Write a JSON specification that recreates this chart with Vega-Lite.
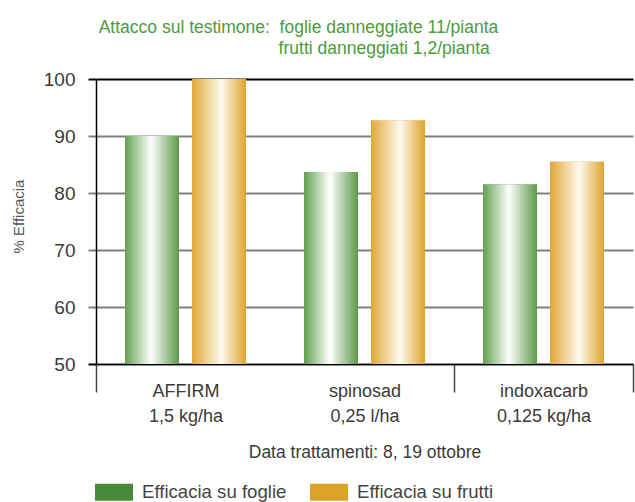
{
  "$schema": "https://vega.github.io/schema/vega-lite/v6.json",
  "width": 537,
  "height": 285,
  "autosize": {"type": "none"},
  "padding": {"left": 96, "top": 79, "right": 2, "bottom": 138},
  "background": "white",
  "config": {
    "view": {"stroke": null},
    "font": "Liberation Sans, Arial, sans-serif"
  },
  "title": {
    "text": ["Attacco sul testimone:\u00a0\u00a0foglie danneggiate 11/pianta", "\u200b\u00a0\u00a0\u00a0\u00a0\u00a0\u00a0\u00a0\u00a0\u00a0\u00a0\u00a0\u00a0\u00a0\u00a0\u00a0\u00a0\u00a0\u00a0\u00a0\u00a0\u00a0\u00a0\u00a0\u00a0\u00a0\u00a0\u00a0\u00a0\u00a0\u00a0\u00a0\u00a0\u00a0\u00a0\u00a0\u00a0\u00a0frutti danneggiati 1,2/pianta"],
    "anchor": "start",
    "frame": "group",
    "font": "Liberation Sans, Arial, sans-serif",
    "fontSize": 17.5,
    "fontWeight": "normal",
    "color": "#4e9a41",
    "lineHeight": 21,
    "offset": 13,
    "dx": 2.7
  },
  "data": {
    "values": [
      {"cat": "AFFIRM|1,5 kg/ha", "serie": "Efficacia su foglie", "v": 90},
      {"cat": "AFFIRM|1,5 kg/ha", "serie": "Efficacia su frutti", "v": 100},
      {"cat": "spinosad|0,25 l/ha", "serie": "Efficacia su foglie", "v": 83.7},
      {"cat": "spinosad|0,25 l/ha", "serie": "Efficacia su frutti", "v": 92.7},
      {"cat": "indoxacarb|0,125 kg/ha", "serie": "Efficacia su foglie", "v": 81.5},
      {"cat": "indoxacarb|0,125 kg/ha", "serie": "Efficacia su frutti", "v": 85.5}
    ]
  },
  "encoding": {
    "x": {
      "field": "cat",
      "type": "nominal",
      "sort": null,
      "scale": {"paddingInner": 0, "paddingOuter": 0},
      "axis": {
        "title": "Data trattamenti: 8, 19 ottobre",
        "labelExpr": "split(datum.label, '|')",
        "labelAngle": 0,
        "labelFontSize": 18,
        "labelColor": "#3a3a3a",
        "labelLineHeight": 25,
        "labelPadding": 4,
        "labelBaseline": "alphabetic",
        "tickBand": "extent",
        "tickSize": 28,
        "tickColor": {"condition": {"test": "datum.index === 0", "value": "transparent"}, "value": "#444444"},
        "tickWidth": 1.5,
        "domainColor": "#000000",
        "domainWidth": 1.5,
        "titleFontSize": 17.5,
        "titleFontWeight": "normal",
        "titleColor": "#3a3a3a",
        "titleY": 93,
        "titleBaseline": "alphabetic"
      }
    },
    "xOffset": {
      "field": "serie",
      "type": "nominal",
      "scale": {"domain": ["Efficacia su foglie", "Efficacia su frutti"], "paddingInner": 0.194, "paddingOuter": 0.433}
    },
    "y": {
      "field": "v",
      "type": "quantitative",
      "scale": {"domain": [50, 100], "zero": false, "nice": false},
      "axis": {
        "title": "% Efficacia",
        "values": [50, 60, 70, 80, 90, 100],
        "titleFontSize": 15,
        "titleFontWeight": "normal",
        "titleColor": "#555555",
        "titleX": -78,
        "titleY": 137,
        "titleAngle": -90,
        "titleAlign": "center",
        "titleBaseline": "middle",
        "labelFontSize": 19,
        "labelColor": "#3a3a3a",
        "labelPadding": 13,
        "tickSize": 8,
        "tickWidth": 2,
        "tickColor": {"condition": {"test": "datum.value == 100 || datum.value == 50", "value": "#000000"}, "value": "#808080"},
        "grid": true,
        "gridWidth": 2,
        "gridColor": {"condition": {"test": "datum.value == 100", "value": "#000000"}, "value": "#808080"},
        "domainColor": "#000000",
        "domainWidth": 1.5
      }
    },
    "y2": {"datum": 50}
  },
  "layer": [
    {
      "mark": {"type": "bar"},
      "encoding": {
        "color": {
          "field": "serie",
          "type": "nominal",
          "scale": {"domain": ["Efficacia su foglie", "Efficacia su frutti"], "range": ["#478a3a", "#dca226"]},
          "legend": {
            "title": null,
            "orient": "none",
            "direction": "horizontal",
            "legendX": -1,
            "legendY": 394,
            "padding": 0,
            "symbolType": "M-1,-0.447H1V0.447H-1Z",
            "symbolSize": 1444,
            "symbolStrokeWidth": 0,
            "symbolOpacity": 1,
            "labelFontSize": 18.6,
            "labelLimit": 400,
            "labelColor": "#444444",
            "labelOffset": 9,
            "columnPadding": 23
          }
        }
      }
    },
    {
      "transform": [{"filter": "datum.serie == 'Efficacia su foglie'"}],
      "mark": {
        "type": "bar",
        "fill": {"gradient": "linear", "x1": 0, "y1": 0, "x2": 1, "y2": 0, "stops": [
          {"offset": 0, "color": "#62a04f"},
          {"offset": 0.48, "color": "#ffffff"},
          {"offset": 1, "color": "#5b9948"}
        ]}
      }
    },
    {
      "transform": [{"filter": "datum.serie == 'Efficacia su frutti'"}],
      "mark": {
        "type": "bar",
        "fill": {"gradient": "linear", "x1": 0, "y1": 0, "x2": 1, "y2": 0, "stops": [
          {"offset": 0, "color": "#e1a736"},
          {"offset": 0.54, "color": "#fffaf0"},
          {"offset": 1, "color": "#dea42c"}
        ]}
      }
    }
  ]
}
